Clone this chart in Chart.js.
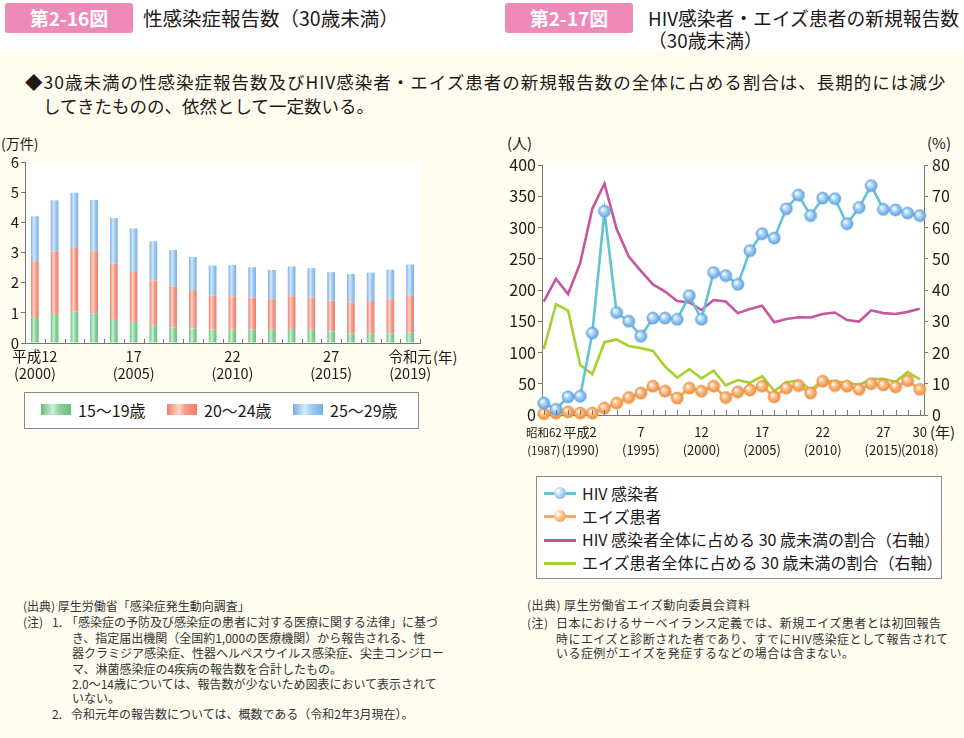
<!DOCTYPE html>
<html lang="ja"><head><meta charset="utf-8">
<script src="https://cdn.jsdelivr.net/npm/chart.js@4"></script>
<style>
html,body{margin:0;padding:0}
body{width:964px;height:738px;position:relative;background:#fffdf0;font-family:'Noto Sans CJK JP','Noto Sans',sans-serif;color:#231815;overflow:hidden}
.t{position:absolute;white-space:nowrap}
.badge{position:absolute;top:3px;width:128px;height:30px;background:#ef89b7;border-radius:3px;color:#fff;font-weight:bold;font-size:19px;line-height:30px;text-align:center}
.ttl{line-height:22px}
.fn{font-size:12px;line-height:14px;color:#333}
.fnr{font-size:12px;line-height:14px;color:#333;letter-spacing:0.45px}
.lg{position:absolute;background:#fff;border:1px solid #8a8a8a;box-sizing:border-box}
.sw{position:absolute;width:30px;height:11px}
.lt{position:absolute;font-size:16px;line-height:20px;white-space:nowrap}
.ml{position:absolute;height:3px;width:32px}
.ball{position:absolute;width:12px;height:12px;border-radius:50%}
canvas{position:absolute}
</style></head><body>
<div style="position:absolute;left:0;top:0;width:964px;height:50px;background:#fff"></div>
<div class="badge" style="left:5px">第2-16図</div>
<div class="t ttl" style="left:143px;top:7px;font-size:19.5px">性感染症報告数（30歳未満）</div>
<div class="badge" style="left:505px">第2-17図</div>
<div class="t ttl" style="left:648px;top:7px;font-size:18.8px">HIV感染者・エイズ患者の新規報告数<br>（30歳未満）</div>

<div class="t" style="left:25px;top:70px;font-size:17.5px;line-height:24px;letter-spacing:1px">◆30歳未満の性感染症報告数及びHIV感染者・エイズ患者の新規報告数の全体に占める割合は、長期的には減少</div>
<div class="t" style="left:43px;top:94px;font-size:17.5px;line-height:24px;letter-spacing:0px">してきたものの、依然として一定数いる。</div>

<div class="t" style="left:1px;top:134px;font-size:14px;line-height:18px">(万件)</div>
<div class="t" style="left:433px;top:348px;font-size:14.5px;line-height:18px">(年)</div>
<div class="t" style="left:507px;top:134px;font-size:15px;line-height:18px">(人)</div>
<div class="t" style="left:927px;top:134px;font-size:15px;line-height:18px">(%)</div>
<div class="t" style="left:930px;top:422px;font-size:15px;line-height:20px">(年)</div>

<canvas id="c1" width="440" height="240" style="left:0;top:150px;width:440px;height:240px"></canvas>
<canvas id="c2" width="464" height="315" style="left:500px;top:150px;width:464px;height:315px"></canvas>

<div class="lg" style="left:24px;top:392px;width:395px;height:37px">
  <div class="sw" style="left:16px;top:11px;background:linear-gradient(90deg,#68c07c,#cfeed6 40%,#8fd3a0 60%,#68c07c)"></div>
  <div class="lt" style="left:53px;top:7px">15〜19歳</div>
  <div class="sw" style="left:142px;top:11px;background:linear-gradient(90deg,#ef7c66,#fcd6cc 40%,#f5a08f 60%,#ef7c66)"></div>
  <div class="lt" style="left:179px;top:7px">20〜24歳</div>
  <div class="sw" style="left:268px;top:11px;background:linear-gradient(90deg,#78afe6,#d6e9fa 40%,#a5cdf2 60%,#78afe6)"></div>
  <div class="lt" style="left:305px;top:7px">25〜29歳</div>
</div>

<div class="lg" style="left:536px;top:476px;width:406px;height:103px">
  <div class="ml" style="left:7px;top:15px;background:#62c3d6"></div>
  <div class="ball" style="left:17px;top:10px;background:radial-gradient(circle at 35% 35%,#fff,#a9d5f7 45%,#5f9fe0)"></div>
  <div class="lt" style="left:45px;top:6px">HIV 感染者</div>
  <div class="ml" style="left:7px;top:38px;background:#f5a863"></div>
  <div class="ball" style="left:17px;top:33px;background:radial-gradient(circle at 35% 35%,#fff,#f9bd86 45%,#ec8d3c)"></div>
  <div class="lt" style="left:45px;top:29px">エイズ患者</div>
  <div class="ml" style="left:7px;top:62px;background:#c6579f"></div>
  <div class="lt" style="left:45px;top:52px">HIV 感染者全体に占める 30 歳未満の割合（右軸）</div>
  <div class="ml" style="left:7px;top:85px;background:#a7d031"></div>
  <div class="lt" style="left:45px;top:75px">エイズ患者全体に占める 30 歳未満の割合（右軸）</div>
</div>

<div class="t fn" style="left:23px;top:599px">(出典) 厚生労働省「感染症発生動向調査」</div>
<div class="t fn" style="left:23px;top:615px">(注)</div>
<div class="t fn" style="left:52px;top:615px">1.</div>
<div class="t fn" style="left:66px;top:615px">「感染症の予防及び感染症の患者に対する医療に関する法律」に基づ</div>
<div class="t fn" style="left:72px;top:631px">き、指定届出機関（全国約1,000の医療機関）から報告される、性</div>
<div class="t fn" style="left:72px;top:646px">器クラミジア感染症、性器ヘルペスウイルス感染症、尖圭コンジロー</div>
<div class="t fn" style="left:72px;top:662px">マ、淋菌感染症の4疾病の報告数を合計したもの。</div>
<div class="t fn" style="left:72px;top:677px">2.0〜14歳については、報告数が少ないため図表において表示されて</div>
<div class="t fn" style="left:72px;top:691px">いない。</div>
<div class="t fn" style="left:52px;top:707px">2.</div>
<div class="t fn" style="left:71px;top:707px">令和元年の報告数については、概数である（令和2年3月現在）。</div>

<div class="t fnr" style="left:527px;top:598px">(出典) 厚生労働省エイズ動向委員会資料</div>
<div class="t fnr" style="left:527px;top:616px">(注)</div>
<div class="t fnr" style="left:556px;top:616px">日本におけるサーベイランス定義では、新規エイズ患者とは初回報告</div>
<div class="t fnr" style="left:556px;top:632px">時にエイズと診断された者であり、すでにHIV感染症として報告されて</div>
<div class="t fnr" style="left:556px;top:646px">いる症例がエイズを発症するなどの場合は含まない。</div>

<script>
// ---- 第2-16図 data (万件) ----
const barYears = ['2000','2001','2002','2003','2004','2005','2006','2007','2008','2009','2010','2011','2012','2013','2014','2015','2016','2017','2018','2019'];
const barTickLabels = [['平成12','(2000)'],'','','','',['17','(2005)'],'','','','',['22','(2010)'],'','','','',['27','(2015)'],'','','',['令和元','(2019)']];
const age15to19 = [0.86,0.97,1.05,0.98,0.80,0.70,0.59,0.52,0.48,0.44,0.44,0.45,0.44,0.46,0.44,0.38,0.32,0.32,0.32,0.34];
const age20to24 = [1.85,2.06,2.13,2.06,1.83,1.68,1.48,1.36,1.27,1.14,1.11,1.06,1.01,1.09,1.07,1.02,1.03,1.07,1.13,1.24];
const age25to29 = [1.49,1.70,1.80,1.70,1.51,1.42,1.30,1.20,1.10,0.99,1.04,1.00,0.97,0.99,0.97,0.95,0.94,0.94,0.98,1.02];
const barYTicks = [0,1,2,3,4,5,6];

// ---- 第2-17図 data ----
const lineYears = [1987,1988,1989,1990,1991,1992,1993,1994,1995,1996,1997,1998,1999,2000,2001,2002,2003,2004,2005,2006,2007,2008,2009,2010,2011,2012,2013,2014,2015,2016,2017,2018];
const lineTickYears = [1987,1990,1995,2000,2005,2010,2015,2018];
const lineTickLabels = [['昭和62','(1987)'],['平成2','(1990)'],['7','(1995)'],['12','(2000)'],['17','(2005)'],['22','(2010)'],['27','(2015)'],['30','(2018)']];
const hivCases = [19,9,29,30,131,326,164,150,126,155,155,153,191,153,228,223,209,263,290,283,330,352,319,347,346,306,332,367,329,328,323,319];
const aidsCases = [2,3,5,3,3,11,19,28,35,46,38,27,43,38,46,28,37,40,46,29,43,47,35,54,47,46,41,50,48,45,55,41];
const hivUnder30Pct = [36.3,43.6,38.7,48.6,66,74,59.6,50.7,46.1,41.8,39.5,36.5,36,33.6,36.8,36.3,32.6,33.9,35,29.7,30.7,31.3,31.2,32.3,32.8,30.4,29.9,33.5,32.6,32.3,33,34];
const aidsUnder30Pct = [21.1,35.5,33.4,16,13.1,23.3,24.2,22.1,21.4,20.5,15.5,12,14.7,11.7,14.2,9.5,11.2,10.3,12.4,7.7,10.5,11,8.1,11,10.7,10.4,9.6,11.5,11.6,10.6,13.7,11.4];

Chart.defaults.font.family = "'Noto Sans CJK JP','Noto Sans',sans-serif";
Chart.defaults.color = '#231815';
Chart.defaults.animation = false;

const areaBg = {id:'areaBg', beforeDraw(c){const a=c.chartArea; const ctx=c.ctx; ctx.save(); ctx.fillStyle='#fff'; ctx.fillRect(a.left,a.top,a.width,a.height); ctx.restore();}};
const innerTicks = {id:'innerTicks', afterDraw(c,args,opts){
  const ctx=c.ctx, xs=c.scales.x, b=c.chartArea.bottom; const pos=[];
  if(opts.mode==='bounds'){const n=xs.ticks.length; const slot=xs.width/n; for(let i=0;i<=n;i++) pos.push(xs.left+i*slot);}
  else { lineYears.forEach(y=>pos.push(xs.getPixelForValue(y))); }
  ctx.save(); ctx.strokeStyle='#777'; ctx.lineWidth=1; ctx.beginPath();
  pos.forEach(p=>{const x=Math.round(p)+0.5; ctx.moveTo(x,b); ctx.lineTo(x,b-opts.len);});
  ctx.stroke(); ctx.restore();
}};

function barFill(edge, light, mid){
  return (c)=>{const ch=c.chart; if(!ch.chartArea) return edge; const x=ch.scales.x.getPixelForValue(c.dataIndex);
    const g=ch.ctx.createLinearGradient(x-4,0,x+4,0); g.addColorStop(0,edge); g.addColorStop(0.4,light); g.addColorStop(0.6,mid); g.addColorStop(1,edge); return g;};
}

new Chart(document.getElementById('c1'), {
  type:'bar',
  data:{labels:barYears, datasets:[
    {label:'15〜19歳', data:age15to19, backgroundColor:barFill('#68c07c','#cfeed6','#8fd3a0'), stack:'s'},
    {label:'20〜24歳', data:age20to24, backgroundColor:barFill('#ef7c66','#fcd6cc','#f5a08f'), stack:'s'},
    {label:'25〜29歳', data:age25to29, backgroundColor:barFill('#78afe6','#d6e9fa','#a5cdf2'), stack:'s'}
  ].map(d=>Object.assign(d,{barPercentage:0.39, categoryPercentage:1, borderWidth:0}))},
  options:{responsive:false, maintainAspectRatio:false,
    layout:{padding:{top:12,right:20,left:0,bottom:0}},
    plugins:{legend:{display:false}, tooltip:{enabled:false}, innerTicks:{mode:'bounds',len:4}},
    scales:{
      x:{stacked:true, grid:{display:false, drawTicks:false}, border:{display:true,color:'#777'},
         ticks:{autoSkip:false, maxRotation:0, padding:5, font:{size:14.5,lineHeight:1.15}, callback:(v,i)=>barTickLabels[i]},
         afterFit(s){s.height=47;}},
      y:{stacked:true, min:0, max:6, grid:{display:true, drawOnChartArea:false, drawTicks:true, tickLength:4, color:'#777'}, border:{display:true,color:'#777'},
         afterBuildTicks(s){s.ticks=barYTicks.map(v=>({value:v}));},
         ticks:{padding:2, font:{size:15}}, afterFit(s){s.width=25;}}
    }},
  plugins:[areaBg, innerTicks]
});

function ball(edge, mid, r){
  const s=Math.ceil(r*2+2); const cv=document.createElement('canvas'); cv.width=cv.height=s;
  const g=cv.getContext('2d'); const cx=s/2, cy=s/2;
  const grad=g.createRadialGradient(cx-r*0.35,cy-r*0.35,0.3,cx,cy,r);
  grad.addColorStop(0,'#ffffff'); grad.addColorStop(0.45,mid); grad.addColorStop(1,edge);
  g.fillStyle=grad; g.beginPath(); g.arc(cx,cy,r,0,Math.PI*2); g.fill();
  g.strokeStyle=edge; g.lineWidth=0.7; g.stroke(); return cv;
}
const blueBall = ball('#5f9fe0','#a9d5f7',6);
const orangeBall = ball('#ec8d3c','#f9bd86',6);
const pts = arr => lineYears.map((y,i)=>({x:y, y:arr[i]}));

new Chart(document.getElementById('c2'), {
  type:'line',
  data:{datasets:[
    {label:'HIV 感染者', data:pts(hivCases), borderColor:'#62c3d6', borderWidth:2.6, pointStyle:blueBall, pointRadius:6, yAxisID:'y', clip:false},
    {label:'エイズ患者', data:pts(aidsCases), borderColor:'#f5a863', borderWidth:2.6, pointStyle:orangeBall, pointRadius:6, yAxisID:'y', clip:false},
    {label:'HIV 感染者全体に占める 30 歳未満の割合（右軸）', data:pts(hivUnder30Pct), borderColor:'#c6579f', borderWidth:2.6, pointRadius:0, yAxisID:'y1', clip:false},
    {label:'エイズ患者全体に占める 30 歳未満の割合（右軸）', data:pts(aidsUnder30Pct), borderColor:'#a7d031', borderWidth:2.6, pointRadius:0, yAxisID:'y1', clip:false}
  ]},
  options:{responsive:false, maintainAspectRatio:false,
    layout:{padding:{top:15,right:0,left:0,bottom:0}},
    plugins:{legend:{display:false}, tooltip:{enabled:false}, innerTicks:{mode:'years',len:5}},
    scales:{
      x:{type:'linear', min:1986.85, max:2018.35, grid:{display:false, drawTicks:false}, border:{display:true,color:'#777'},
         afterBuildTicks(s){s.ticks=lineTickYears.map(v=>({value:v}));},
         ticks:{autoSkip:false, maxRotation:0, padding:8,
           font:(c)=>({size:(c.index===0?11.5:13), lineHeight:(c.index===0?1.6:1.4)}),
           callback:(v)=>{const i=lineTickYears.indexOf(v); return i>=0?lineTickLabels[i]:'';}},
         afterFit(s){s.height=50;}},
      y:{position:'left', min:0, max:400, grid:{display:true, drawOnChartArea:false, drawTicks:true, tickLength:4, color:'#777'}, border:{display:true,color:'#777'},
         ticks:{stepSize:50, padding:2, font:{size:16}}, afterFit(s){s.width=42;}},
      y1:{position:'right', min:0, max:80, grid:{display:true, drawOnChartArea:false, drawTicks:true, tickLength:4, color:'#777'}, border:{display:true,color:'#777'},
         ticks:{stepSize:10, padding:4, font:{size:16}}, afterFit(s){s.width=40;}}
    }},
  plugins:[areaBg, innerTicks]
});
</script>
</body></html>
